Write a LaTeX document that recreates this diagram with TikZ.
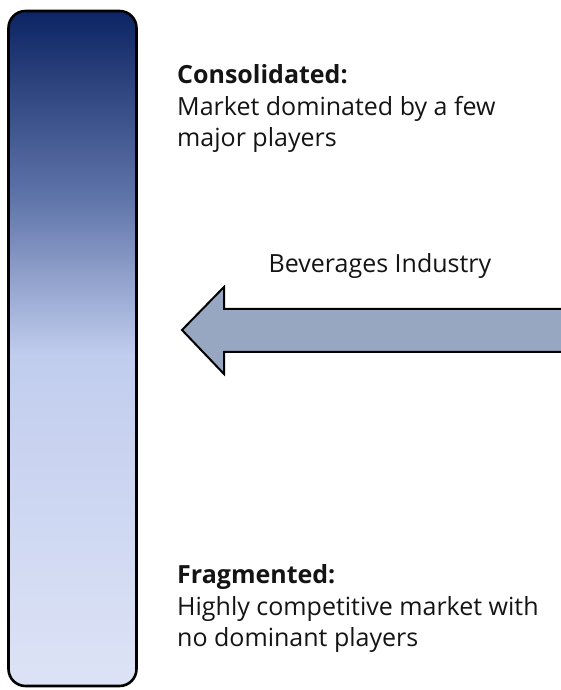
\documentclass[tikz,border=0pt]{standalone}
\usepackage{fontspec}
\setmainfont{Open Sans}
\usepackage{tikz}
\usetikzlibrary{positioning}
\definecolor{bartop}{RGB}{12,36,99}
\definecolor{barupper}{RGB}{96,117,170}
\definecolor{barmid}{RGB}{193,205,238}
\definecolor{barbot}{RGB}{221,227,246}
\definecolor{arrowfill}{RGB}{152,167,193}
\definecolor{textcolor}{RGB}{20,20,20}

% dark at the top, pale at the bottom
\pgfdeclareverticalshading{barfade}{100bp}{%
  color(0bp)=(barbot); color(25bp)=(barbot); color(49.5bp)=(barmid);
  color(61bp)=(barupper); color(75bp)=(bartop); color(100bp)=(bartop)}

\begin{document}
\begin{tikzpicture}[
    x=1pt, y=1pt,
    bar/.style={
        rectangle, draw=black, line width=2.6pt, rounded corners=17pt,
        minimum width=128pt, minimum height=675pt, inner sep=0pt,
        shading=barfade
    },
    desc/.style={
        align=left, inner sep=0pt, text=textcolor,
        font=\fontsize{25}{31.5}\selectfont
    },
    bigarrow/.style={draw=black, line width=2pt, fill=arrowfill, line join=miter}
]
\clip (0,0) rectangle (561,690);

% Market structure scale
\node[bar] (scale) at (72.5, 341.5) {};

% Ends of the scale (base = last line)
\node[desc, anchor=base west] (consolidated) at (177, 543)
    {\textbf{Consolidated:}\\Market dominated by a few\\major players};
\node[desc, anchor=base west] (fragmented) at (177, 43)
    {\textbf{Fragmented:}\\Highly competitive market with\\no dominant players};

% Industry position
\draw[bigarrow] (182, 360) -- (224, 403) -- (224, 381) -- (575, 381)
    -- (575, 338) -- (224, 338) -- (224, 316) -- cycle;
\node[desc, anchor=base] (industry) at (380, 417) {Beverages Industry};

\end{tikzpicture}
\end{document}
